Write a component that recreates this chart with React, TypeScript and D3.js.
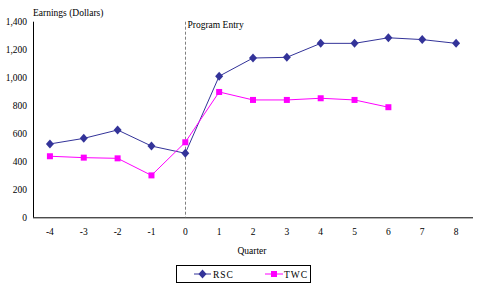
import React, { useRef, useEffect } from 'react';
import * as d3 from 'd3';

// ==================== DATA ====================
const QUARTERS = ['-4', '-3', '-2', '-1', '0', '1', '2', '3', '4', '5', '6', '7', '8'];
const RSC = [525, 565, 625, 510, 458, 1010, 1140, 1145, 1245, 1245, 1285, 1272, 1245];
const TWC = [437, 427, 422, 300, 537, 897, 840, 840, 852, 840, 788];
const Y_TICKS = [0, 200, 400, 600, 800, 1000, 1200, 1400];

const COLORS = {
    rsc: '#333399',
    twc: '#FF00FF',
    axis: '#000000',
    entry: '#808080',
};

const W = 482;
const H = 286;
const FONT = '"Liberation Serif", "DejaVu Serif", serif';
const DIAMOND = 'M0,-4.5L4,0L0,4.5L-4,0Z';

const App = () => {
    const svgRef = useRef<SVGSVGElement | null>(null);

    useEffect(() => {
        const svg = d3.select(svgRef.current);
        svg.selectAll('*').remove();

        const left = 33, right = 473, top = 21.7, bottom = 217.3;

        const x = d3.scaleBand().domain(QUARTERS).range([left, right]);
        const y = d3.scaleLinear().domain([0, 1400]).range([bottom, top]);
        const cx = (q: string) => (x(q) as number) + x.bandwidth() / 2;

        const txt = (sel: any) => sel.style('font-family', FONT).attr('font-size', 9.5).attr('fill', '#000');

        // y axis title
        svg.append('text')
            .attr('x', 33).attr('y', 16)
            .call(txt)
            .text('Earnings (Dollars)');

        // y tick labels
        svg.selectAll('.ytick').data(Y_TICKS).enter().append('text')
            .attr('x', 27).attr('y', d => y(d) + 3.5)
            .attr('text-anchor', 'end')
            .call(txt)
            .text(d => d3.format(',')(d));

        // axes
        svg.append('line')
            .attr('x1', left + 0.5).attr('x2', left + 0.5)
            .attr('y1', top).attr('y2', bottom)
            .attr('stroke', COLORS.axis).attr('stroke-width', 1);
        svg.append('line')
            .attr('x1', left).attr('x2', right)
            .attr('y1', bottom + 0.5).attr('y2', bottom + 0.5)
            .attr('stroke', COLORS.axis).attr('stroke-width', 1);

        // x tick labels
        svg.selectAll('.xtick').data(QUARTERS).enter().append('text')
            .attr('x', d => cx(d)).attr('y', bottom + 18)
            .attr('text-anchor', 'middle')
            .call(txt)
            .text(d => d);

        svg.append('text')
            .attr('x', 252).attr('y', 254)
            .attr('text-anchor', 'middle')
            .call(txt)
            .text('Quarter');

        // program entry line
        const ex = Math.round(cx('0')) + 0.5;
        svg.append('line')
            .attr('x1', ex).attr('x2', ex)
            .attr('y1', top).attr('y2', bottom)
            .attr('stroke', COLORS.entry).attr('stroke-width', 1)
            .attr('stroke-dasharray', '3,2');
        svg.append('text')
            .attr('x', ex + 2).attr('y', 28)
            .call(txt)
            .text('Program Entry');

        const line = d3.line<number>()
            .x((d, i) => cx(QUARTERS[i]))
            .y(d => y(d));

        // RSC
        svg.append('path').datum(RSC)
            .attr('fill', 'none').attr('stroke', COLORS.rsc).attr('stroke-width', 1)
            .attr('d', line);
        svg.selectAll('.rsc').data(RSC).enter().append('path')
            .attr('d', DIAMOND)
            .attr('transform', (d, i) => `translate(${cx(QUARTERS[i])},${y(d)})`)
            .attr('fill', COLORS.rsc);

        // TWC
        svg.append('path').datum(TWC)
            .attr('fill', 'none').attr('stroke', COLORS.twc).attr('stroke-width', 1)
            .attr('d', line);
        svg.selectAll('.twc').data(TWC).enter().append('rect')
            .attr('x', (d, i) => cx(QUARTERS[i]) - 3).attr('y', d => y(d) - 3)
            .attr('width', 6).attr('height', 6)
            .attr('fill', COLORS.twc);

        // legend
        const lg = svg.append('g');
        lg.append('rect')
            .attr('x', 176.5).attr('y', 265.5).attr('width', 134).attr('height', 17)
            .attr('fill', 'white').attr('stroke', '#000').attr('stroke-width', 1);
        lg.append('line').attr('x1', 194).attr('x2', 211).attr('y1', 274).attr('y2', 274)
            .attr('stroke', COLORS.rsc).attr('stroke-width', 1);
        lg.append('path')
            .attr('d', DIAMOND)
            .attr('transform', 'translate(202.5,274)')
            .attr('fill', COLORS.rsc);
        lg.append('text').attr('x', 213).attr('y', 277.5)
            .call(txt).attr('letter-spacing', 1)
            .text('RSC');
        lg.append('line').attr('x1', 265).attr('x2', 283).attr('y1', 274).attr('y2', 274)
            .attr('stroke', COLORS.twc).attr('stroke-width', 1);
        lg.append('rect').attr('x', 271).attr('y', 271).attr('width', 6).attr('height', 6)
            .attr('fill', COLORS.twc);
        lg.append('text').attr('x', 284).attr('y', 277.5)
            .call(txt).attr('letter-spacing', 1)
            .text('TWC');
    }, []);

    return (
        <svg ref={svgRef} width={W} height={H}
            style={{ position: 'absolute', left: 0, top: 0, background: '#fff' }} />
    );
};

export default App;
